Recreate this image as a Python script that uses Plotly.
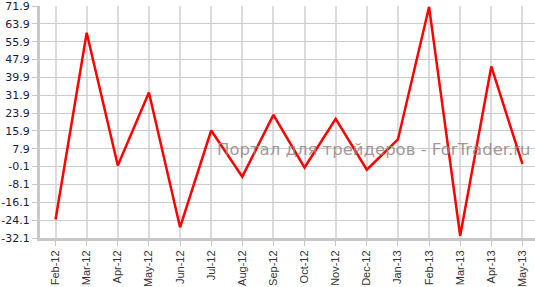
import plotly.graph_objects as go

months = ["Feb-12", "Mar-12", "Apr-12", "May-12", "Jun-12", "Jul-12", "Aug-12", "Sep-12",
          "Oct-12", "Nov-12", "Dec-12", "Jan-13", "Feb-13", "Mar-13", "Apr-13", "May-13"]
values = [-23.8, 59.9, 0.4, 33.1, -27.3, 16.1, -4.6, 23.1,
          -0.5, 21.3, -1.5, 12.1, 71.5, -31.1, 44.8, 1.1]
y_ticks = [round(-32.1 + 8 * i, 1) for i in range(14)]
y_labels = ["%.1f" % v for v in y_ticks]
watermark = "Портал для трейдеров - ForTrader.ru"

fig = go.Figure()
fig.add_trace(go.Scatter(x=months, y=values, mode="lines",
                         line=dict(color="#ff0000", width=2.5),
                         hoverinfo="x+y", showlegend=False))

fig.add_annotation(text=watermark, xref="paper", yref="paper",
                   x=0.995, y=0.38, xanchor="right", yanchor="middle",
                   showarrow=False,
                   font=dict(family="DejaVu Sans", size=16.5, color="rgba(150,132,132,0.85)"))

fig.update_layout(
    width=535, height=287,
    margin=dict(l=40, r=0, t=5, b=45),
    paper_bgcolor="white", plot_bgcolor="white",
    xaxis=dict(type="category", categoryorder="array", categoryarray=months,
               range=[-0.5, 15.404], showgrid=True, gridcolor="#dcdcdc", gridwidth=2,
               showline=True, linecolor="#c8c8c8", linewidth=3,
               ticks="outside", ticklen=5, tickcolor="#c8c8c8", tickwidth=1,
               tickangle=-90, tickfont=dict(family="Liberation Sans", size=11, color="#333333"),
               zeroline=False, fixedrange=True),
    yaxis=dict(range=[-32.1, 71.92], tickmode="array", tickvals=y_ticks, ticktext=y_labels,
               showgrid=True, gridcolor="#cccccc", gridwidth=1,
               showline=True, linecolor="#c8c8c8", linewidth=3,
               ticks="outside", ticklen=5, tickcolor="#c8c8c8", tickwidth=1,
               ticklabeloverflow="allow",
               tickfont=dict(family="DejaVu Sans", size=11, color="#1a1a3a"),
               zeroline=False, fixedrange=True),
)

fig.write_html("out.html")
